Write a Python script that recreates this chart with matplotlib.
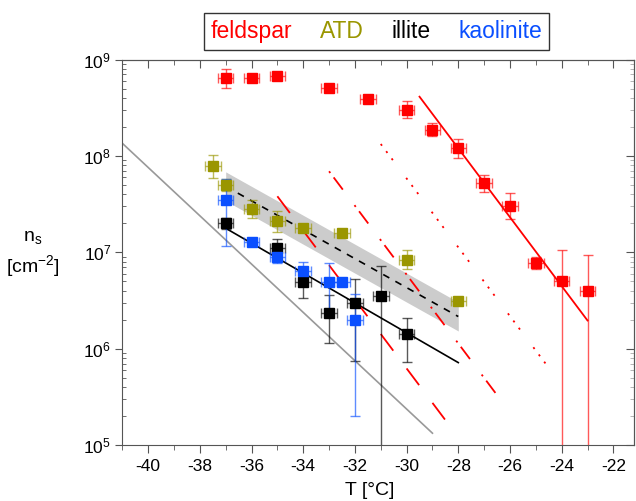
import numpy as np
import matplotlib
matplotlib.use("Agg")
import matplotlib.pyplot as plt
from matplotlib.lines import Line2D
from matplotlib.ticker import MultipleLocator, LogLocator, NullFormatter
from matplotlib.colors import to_rgba

plt.rcParams['font.family'] = ['Liberation Sans', 'DejaVu Sans']
plt.rcParams['mathtext.fontset'] = 'custom'
plt.rcParams['mathtext.rm'] = 'Liberation Sans'
plt.rcParams['mathtext.it'] = 'Liberation Sans:italic'
plt.rcParams['lines.scale_dashes'] = False
plt.rcParams['axes.unicode_minus'] = False

RED, OLIVE, BLACK, BLUE, GRAY = '#ff0000', '#9a9600', '#000000', '#0a4fff', '#999999'

# ---- data (T in degC, ns in cm^-2, error bar bounds lo/hi) ----
feldspar_T  = [-37, -36, -35, -33, -31.5, -30, -29, -28, -27, -26, -25, -24, -23]
feldspar_ns = [6.4e8, 6.4e8, 6.8e8, 5.1e8, 3.9e8, 3.0e8, 1.85e8, 1.2e8, 5.2e7, 3.0e7, 7.8e6, 5.0e6, 4.0e6]
feldspar_lo = [5.1e8, 6.0e8, 6.4e8, 4.8e8, 3.5e8, 2.45e8, 1.6e8, 9.5e7, 4.2e7, 2.2e7, 6.8e6, 1e3, 1e3]
feldspar_hi = [8.0e8, 6.9e8, 7.2e8, 5.4e8, 4.3e8, 3.7e8, 2.2e8, 1.5e8, 6.4e7, 4.1e7, 9.0e6, 1.07e7, 9.5e6]

atd_T  = [-37.5, -37, -36, -35, -34, -32.5, -30, -28]
atd_ns = [7.8e7, 5.0e7, 2.8e7, 2.1e7, 1.8e7, 1.6e7, 8.4e6, 3.1e6]
atd_lo = [5.9e7, 4.35e7, 2.25e7, 1.63e7, 1.65e7, 1.45e7, 6.7e6, 2.9e6]
atd_hi = [1.03e8, 5.75e7, 3.5e7, 2.7e7, 1.97e7, 1.75e7, 1.06e7, 3.35e6]

illite_T  = [-37, -35, -34, -33, -32, -31, -30]
illite_ns = [2.0e7, 1.1e7, 4.9e6, 2.35e6, 3.0e6, 3.5e6, 1.42e6]
illite_lo = [1.74e7, 8.7e6, 3.4e6, 1.15e6, 7.5e5, 1e3, 7.3e5]
illite_hi = [2.3e7, 1.38e7, 7.1e6, 3.6e6, 5.25e6, 7.2e6, 2.08e6]

kaol_T  = [-37, -36, -35, -34, -33, -32.5, -32]
kaol_ns = [3.5e7, 1.28e7, 9.0e6, 6.4e6, 4.9e6, 4.9e6, 2.0e6]
kaol_lo = [1.17e7, 1.17e7, 7.7e6, 5.2e6, 2.5e6, 4.6e6, 2.0e5]
kaol_hi = [5.74e7, 1.4e7, 1.06e7, 7.9e6, 7.7e6, 5.25e6, 3.7e6]

T_err = 0.3

# fits: log10(ns) = A + B*T
feld_B = -0.357
feld_A = [-1.917, -2.943, -3.94, -4.913]
feld_Trange = [(-29.5, -23.0), (-31.0, -24.5), (-33.0, -26.5), (-35.0, -28.5)]
illite_A, illite_B, illite_Trange = 1.523, -0.1548, (-37.0, -28.0)
atd_A, atd_B, atd_Trange, atd_band = 2.135, -0.150, (-37.0, -28.0), 0.15
gray_A, gray_B, gray_Trange = -2.139, -0.2505, (-41.0, -29.0)

# ---- figure ----
fig = plt.figure(figsize=(6.36, 5.01), dpi=100)
ax = fig.add_axes([0.1923, 0.1112, 0.8046, 0.770])
ax.set_yscale('log')


def fit(A, B, tr):
    t = np.linspace(tr[0], tr[1], 100)
    return t, 10 ** (A + B * t)


# shaded ATD band
t = np.linspace(*atd_Trange, 100)
ax.fill_between(t, 10 ** (atd_A + atd_B * t - atd_band), 10 ** (atd_A + atd_B * t + atd_band),
                color='#cccccc', lw=0, zorder=1)

ax.plot(*fit(gray_A, gray_B, gray_Trange), color=GRAY, lw=1.2, zorder=2)
ax.plot(*fit(illite_A, illite_B, illite_Trange), color=BLACK, lw=1.2, zorder=2)
ax.plot(*fit(atd_A, atd_B, atd_Trange), color=BLACK, lw=1.2, dashes=(5, 5), zorder=2)

feld_styles = [None, (1.5, 5, 1.5, 5, 1.5, 16), (1.5, 4, 11, 14), (15, 16)]
for A, tr, ds in zip(feld_A, feld_Trange, feld_styles):
    if ds is None:
        ax.plot(*fit(A, feld_B, tr), color=RED, lw=1.3, zorder=2)
    else:
        ax.plot(*fit(A, feld_B, tr), color=RED, lw=1.3, dashes=ds, zorder=2)


def plot_set(T, ns, lo, hi, color):
    ns = np.array(ns)
    yerr = [ns - np.array(lo), np.array(hi) - ns]
    ax.errorbar(T, ns, xerr=T_err, yerr=yerr, fmt='s', ms=7.2, color=color,
                mec=color, ecolor=to_rgba(color, 0.65), elinewidth=1,
                capsize=3.5, capthick=1, zorder=4)


plot_set(feldspar_T, feldspar_ns, feldspar_lo, feldspar_hi, RED)
plot_set(atd_T, atd_ns, atd_lo, atd_hi, OLIVE)
plot_set(illite_T, illite_ns, illite_lo, illite_hi, BLACK)
plot_set(kaol_T, kaol_ns, kaol_lo, kaol_hi, BLUE)

ax.set_xlim(-41, -21.2)
ax.set_ylim(1e5, 1e9)

SPINE = '#555555'
for s in ax.spines.values():
    s.set_color(SPINE)
ax.xaxis.set_major_locator(MultipleLocator(2))
ax.xaxis.set_minor_locator(MultipleLocator(1))
ax.tick_params(axis='x', which='major', direction='out', length=6, color=SPINE, labelsize=12.5, pad=4)
ax.tick_params(axis='x', which='minor', direction='out', length=3.5, color=SPINE)
ax.tick_params(axis='y', which='major', direction='out', length=5, color=SPINE, labelsize=12.5, pad=3)
ax.tick_params(axis='y', which='minor', direction='in', length=3, color=SPINE)

top = ax.secondary_xaxis('top')
top.xaxis.set_major_locator(MultipleLocator(2))
top.xaxis.set_minor_locator(MultipleLocator(1))
top.tick_params(which='major', direction='in', length=6, color=SPINE, labeltop=False)
top.tick_params(which='minor', direction='in', length=3.5, color=SPINE)
top.spines['top'].set_color(SPINE)

right = ax.secondary_yaxis('right')
right.yaxis.set_major_locator(LogLocator(base=10))
right.yaxis.set_minor_locator(LogLocator(base=10, subs=np.arange(2, 10)))
right.yaxis.set_minor_formatter(NullFormatter())
right.tick_params(which='major', direction='in', length=6, color=SPINE, labelright=False)
right.tick_params(which='minor', direction='in', length=3, color='#aaaaaa')
right.spines['right'].set_color(SPINE)

ax.set_xlabel('T [°C]', fontsize=14)
ax.xaxis.set_label_coords(0.484, -0.095)
fig.text(0.052, 0.493, '$\\mathregular{n_s}$\n$\\mathregular{[cm^{-2}]}$',
         ha='center', va='center', fontsize=14, linespacing=1.4)

handles = [Line2D([], [], linestyle='none') for _ in range(4)]
leg = fig.legend(handles, ['feldspar', 'ATD', 'illite', 'kaolinite'],
                 loc='center', bbox_to_anchor=(0.5917, 0.937), ncol=4,
                 handlelength=0, handletextpad=0, columnspacing=1.2,
                 fontsize=16.5, frameon=True, fancybox=False, borderpad=0.3,
                 labelcolor=[RED, OLIVE, BLACK, BLUE])
leg.get_frame().set_edgecolor('black')
leg.get_frame().set_linewidth(1.0)

fig.savefig('out.png', dpi=100)
